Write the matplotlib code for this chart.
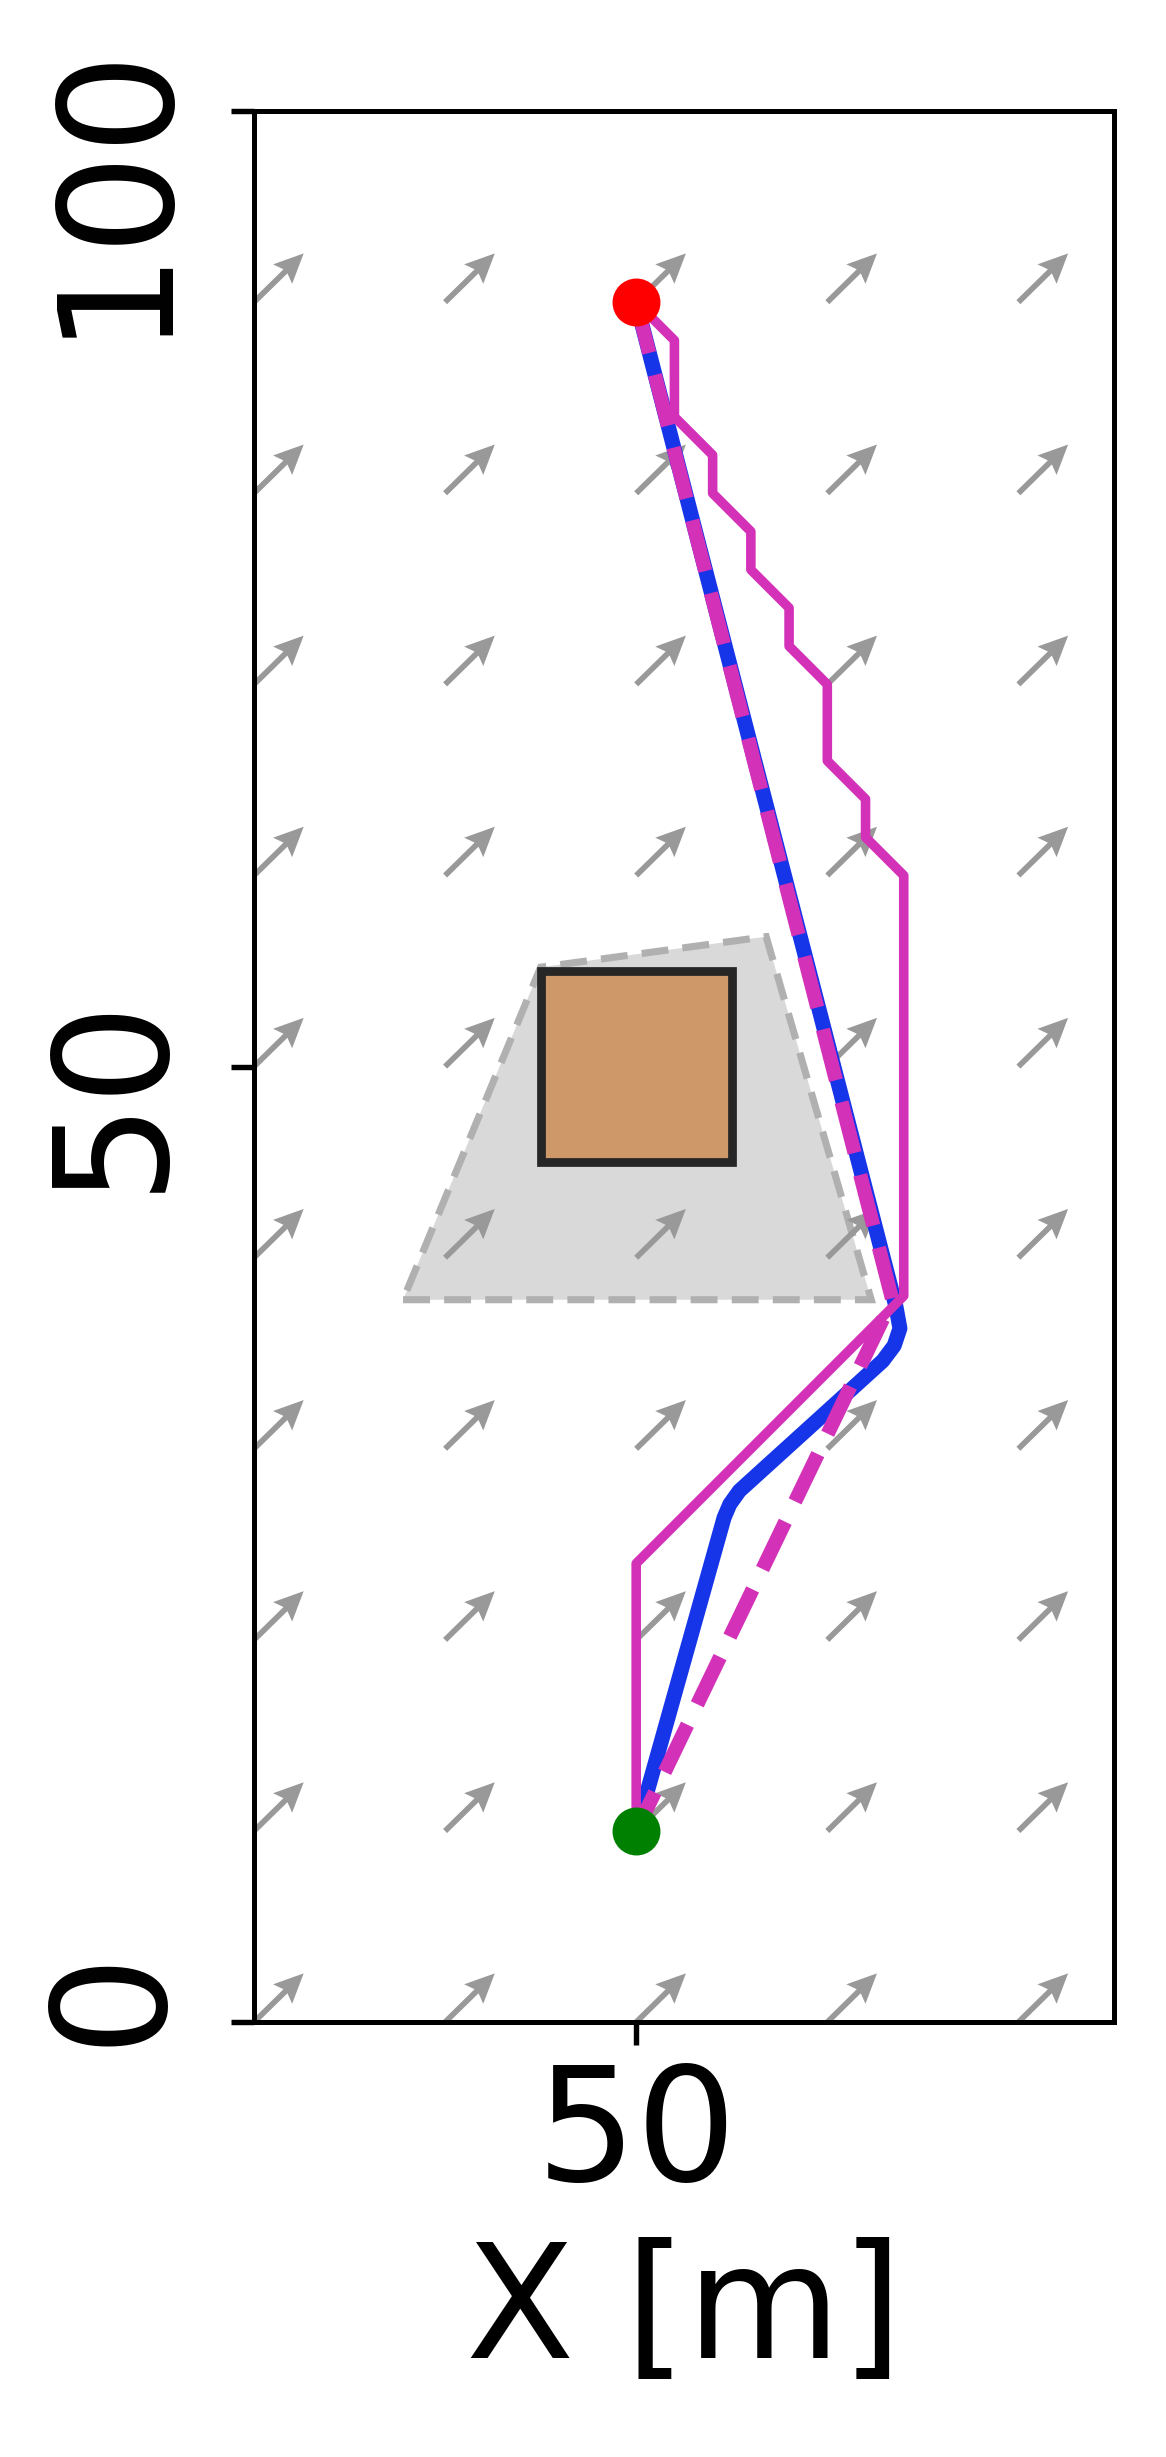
import numpy as np
import matplotlib
matplotlib.use("Agg")
import matplotlib.pyplot as plt
from matplotlib.patches import Polygon, Rectangle
from matplotlib.transforms import ScaledTranslation

# wind field grid (arrow tails) and wind vector
wind_x = [30, 40, 50, 60, 70]
wind_y = [0, 10, 20, 30, 40, 50, 60, 70, 80, 90]
wind_u = 2.6
wind_v = 2.55

# start / goal
start = (50, 10)
goal = (50, 90)

# obstacle and its inflated risk zone
obstacle_xy = (45, 45)
obstacle_w, obstacle_h = 10, 10
zone_verts = [(37.8, 37.8), (62.3, 37.8), (56.8, 56.8), (45.0, 55.2)]

# grid planner path (thin)
grid_x = [50, 52, 52, 54, 54, 56, 56, 58, 58, 60, 60, 62, 62, 64, 64, 50, 50]
grid_y = [90, 88, 84, 82, 80, 78, 76, 74, 72, 70, 66, 64, 62, 60, 38, 24, 10]

# smoothed path (blue)
smooth_x = [50, 54.6, 54.9, 55.4, 62.9, 63.5, 63.8, 63.6, 50]
smooth_y = [10, 26.4, 27.1, 27.8, 34.6, 35.4, 36.3, 37.4, 90]

# straight waypoint path (dashed)
direct_x = [50, 63.4, 50]
direct_y = [90, 37.8, 10]

fig = plt.figure(figsize=(1166 / 300, 2457 / 300), dpi=300)
ax = fig.add_axes([0.2178, 0.1770, 0.7376, 0.7778])

ax.add_patch(Polygon(zone_verts, closed=True, facecolor="#d9d9d9", edgecolor="#b0b0b0",
                     lw=1.7, linestyle=(0, (3.8, 2.0)), zorder=1))

X, Y = np.meshgrid(wind_x, wind_y)
U = np.full(X.shape, wind_u)
V = np.full(X.shape, wind_v)
ax.quiver(X, Y, U, V, angles="xy", scale_units="xy", scale=1, color="#999999",
          width=0.0066, headwidth=4.8, headlength=5.2, headaxislength=4.5, zorder=2)

ax.add_patch(Rectangle(obstacle_xy, obstacle_w, obstacle_h, facecolor="#cf9869",
                       edgecolor="#262626", lw=2.1, zorder=3))

ax.plot(smooth_x, smooth_y, color="#1634e8", lw=3.6, solid_joinstyle="round", zorder=4)
ax.plot(grid_x, grid_y, color="#d331b8", lw=2.3, zorder=5)
ax.plot(direct_x, direct_y, color="#d331b8", lw=3.4, dashes=(3.7, 1.6), zorder=6)

ax.plot(*start, "o", color="#008000", ms=10.5, zorder=7)
ax.plot(*goal, "o", color="#ff0000", ms=10.5, zorder=7)

ax.set_xlim(30, 75)
ax.set_ylim(0, 100)
ax.set_aspect("equal")
ax.set_xticks([50])
ax.set_yticks([0, 50, 100])
ax.tick_params(labelsize=38, length=5.5, width=1.3)
ax.tick_params(axis="y", labelrotation=90, pad=10)
for lab in ax.get_yticklabels():
    lab.set_transform(lab.get_transform() + ScaledTranslation(0, 0.053, fig.dpi_scale_trans))
for s in ax.spines.values():
    s.set_linewidth(1.2)
ax.set_xlabel("X [m]", fontsize=38, labelpad=5.5)

fig.savefig("out.png", dpi=300)
